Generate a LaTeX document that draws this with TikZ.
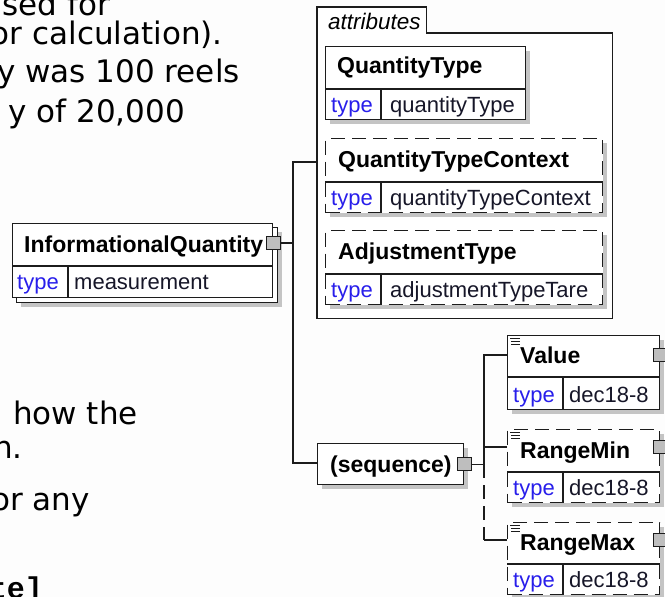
\documentclass[tikz,border=0pt]{standalone}
\usepackage{fontspec}
\setmainfont{Liberation Sans}
\newfontfamily\bodyfont{DejaVu Sans}
\newfontfamily\codefont{Liberation Mono}
\usetikzlibrary{calc,shadows}
\definecolor{ink}{RGB}{28,28,28}
\definecolor{paper}{RGB}{253,253,253}
\definecolor{shade}{RGB}{196,196,196}
\definecolor{portfill}{RGB}{190,190,190}
\definecolor{typeblue}{RGB}{40,30,235}
\definecolor{typetext}{RGB}{22,22,40}
\tikzset{
  plainElem/.style={draw=ink, line width=1.3pt, fill=white, inner sep=0pt, anchor=north west},
  elem/.style={plainElem, general shadow={fill=shade, shadow xshift=4pt, shadow yshift=-4pt}},
  optElem/.style={elem, dash pattern=on 14pt off 7pt},
  rule/.style={draw=ink, line width=1.3pt},
  link/.style={draw=ink, line width=1.3pt},
  optLink/.style={link, dash pattern=on 14pt off 7pt},
  portBox/.style={draw=ink, line width=1pt, fill=portfill, minimum width=14pt,
    minimum height=13pt, inner sep=0pt},
  icon/.style={draw=ink, line width=0.9pt},
  nameText/.style={font=\bfseries\fontsize{23}{27}\selectfont, text=black, inner sep=0pt, anchor=base west},
  groupText/.style={font=\itshape\fontsize{22.5}{26}\selectfont, text=black, inner sep=0pt, anchor=base west},
  typeKey/.style={font=\fontsize{22}{26}\selectfont, text=typeblue, inner sep=0pt, anchor=base west},
  typeVal/.style={font=\fontsize{22}{26}\selectfont, text=typetext, inner sep=0pt, anchor=base west},
  bodyText/.style={font=\bodyfont\fontsize{31}{37}\selectfont, text=black, inner sep=0pt, anchor=base east},
  codeText/.style={font=\codefont\bfseries\fontsize{30}{36}\selectfont, text=black, inner sep=0pt, anchor=base east}
}

\begin{document}
\begin{tikzpicture}[x=1pt,y=-1pt]

% Canvas
\useasboundingbox (0,0) rectangle (665,597);
\clip (0,0) rectangle (665,597);
\fill[paper] (0,0) rectangle (665,597);

% Page text behind the diagram
\node[bodyText] (line1) at (110,16) {used for};
\node[bodyText] (line2) at (223,44) {or calculation).};
\node[bodyText] (line3) at (240,82) {y was 100 reels};
\node[bodyText] (line4) at (185,122) {y of 20,000};
\node[bodyText] (line5) at (138,424) {d how the};
\node[bodyText] (line6) at (23,458) {n.};
\node[bodyText] (line7) at (90,510) {or any};
\node[codeText] (line8) at (43,598) {te]};

% attributes group
\node[anchor=north west, minimum width=295, minimum height=285, inner sep=0pt] (attrBox) at (317,33) {};
\node[anchor=north west, minimum width=109, minimum height=26, inner sep=0pt] (attrTab) at (317,7) {};
\filldraw[link, fill=white] (attrBox.south west) |- (attrTab.north east) |- (attrBox.north east)
  -- (attrBox.south east) -- cycle;
\node[groupText] (attrName) at ($(attrTab.north west)+(11,22)$) {attributes};

\node[elem, minimum width=200, minimum height=73] (qtBox) at (325,46) {};
\draw[rule] ($(qtBox.north west)+(0,43)$) -- ($(qtBox.north east)+(0,43)$);
\draw[rule] ($(qtBox.north west)+(56,43)$) -- ($(qtBox.south west)+(56,0)$);
\node[nameText] (qtName) at ($(qtBox.north west)+(12,28)$) {QuantityType};
\node[typeKey] (qtKey) at ($(qtBox.south west)+(6,-8)$) {type};
\node[typeVal] (qtType) at ($(qtBox.south west)+(65,-8)$) {quantityType};

\node[optElem, minimum width=277, minimum height=74] (qtcBox) at (325,138) {};
\draw[rule] ($(qtcBox.north west)+(0,44)$) -- ($(qtcBox.north east)+(0,44)$);
\draw[rule] ($(qtcBox.north west)+(56,44)$) -- ($(qtcBox.south west)+(56,0)$);
\node[nameText] (qtcName) at ($(qtcBox.north west)+(13,29)$) {QuantityTypeContext};
\node[typeKey] (qtcKey) at ($(qtcBox.south west)+(6,-8)$) {type};
\node[typeVal] (qtcType) at ($(qtcBox.south west)+(65,-8)$) {quantityTypeContext};

\node[optElem, minimum width=277, minimum height=74] (atBox) at (325,230) {};
\draw[rule] ($(atBox.north west)+(0,44)$) -- ($(atBox.north east)+(0,44)$);
\draw[rule] ($(atBox.north west)+(56,44)$) -- ($(atBox.south west)+(56,0)$);
\node[nameText] (atName) at ($(atBox.north west)+(13,29)$) {AdjustmentType};
\node[typeKey] (atKey) at ($(atBox.south west)+(6,-8)$) {type};
\node[typeVal] (atType) at ($(atBox.south west)+(65,-8)$) {adjustmentTypeTare};

% InformationalQuantity
\node[elem, minimum width=261, minimum height=75] (iqBack) at (16,227) {};
\node[plainElem, minimum width=260, minimum height=74] (iqBox) at (12,223) {};
\draw[rule] ($(iqBox.north west)+(0,43)$) -- ($(iqBox.north east)+(0,43)$);
\draw[rule] ($(iqBox.north west)+(56,43)$) -- ($(iqBox.south west)+(56,0)$);
\node[nameText] (iqName) at ($(iqBox.north west)+(12,29)$) {InformationalQuantity};
\node[typeKey] (iqKey) at ($(iqBox.south west)+(5,-9)$) {type};
\node[typeVal] (iqType) at ($(iqBox.south west)+(62,-9)$) {measurement};
\node[portBox] (iqPort) at ($(iqBox.north east)+(0,20)$) {};

% sequence
\node[elem, minimum width=146, minimum height=41] (seqBox) at (317,443) {};
\node[nameText] (seqName) at ($(seqBox.north west)+(13,29)$) {(sequence)};
\node[portBox] (seqPort) at (seqBox.east) {};

\node[elem, minimum width=152, minimum height=74] (valBox) at (507,335) {};
\draw[rule] ($(valBox.north west)+(0,42)$) -- ($(valBox.north east)+(0,42)$);
\draw[rule] ($(valBox.north west)+(56,42)$) -- ($(valBox.south west)+(56,0)$);
\draw[icon] ($(valBox.north west)+(3,3)$) -- +(10,0) ($(valBox.north west)+(4,6)$) -- +(9,0)
  ($(valBox.north west)+(4,9)$) -- +(9,0);
\node[nameText] (valName) at ($(valBox.north west)+(13,28)$) {Value};
\node[typeKey] (valKey) at ($(valBox.south west)+(6,-8)$) {type};
\node[typeVal] (valType) at ($(valBox.south west)+(62,-8)$) {dec18-8};
\node[portBox] (valPort) at ($(valBox.north east)+(0,20)$) {};

\node[optElem, minimum width=152, minimum height=73] (rminBox) at (507,429) {};
\draw[rule] ($(rminBox.north west)+(0,43)$) -- ($(rminBox.north east)+(0,43)$);
\draw[rule] ($(rminBox.north west)+(56,43)$) -- ($(rminBox.south west)+(56,0)$);
\draw[icon] ($(rminBox.north west)+(3,3)$) -- +(10,0) ($(rminBox.north west)+(4,6)$) -- +(9,0)
  ($(rminBox.north west)+(4,9)$) -- +(9,0);
\node[nameText] (rminName) at ($(rminBox.north west)+(13,29)$) {RangeMin};
\node[typeKey] (rminKey) at ($(rminBox.south west)+(6,-8)$) {type};
\node[typeVal] (rminType) at ($(rminBox.south west)+(62,-8)$) {dec18-8};
\node[portBox] (rminPort) at ($(rminBox.north east)+(0,18)$) {};

\node[optElem, minimum width=152, minimum height=72] (rmaxBox) at (507,522) {};
\draw[rule] ($(rmaxBox.north west)+(0,42)$) -- ($(rmaxBox.north east)+(0,42)$);
\draw[rule] ($(rmaxBox.north west)+(56,42)$) -- ($(rmaxBox.south west)+(56,0)$);
\draw[icon] ($(rmaxBox.north west)+(3,3)$) -- +(10,0) ($(rmaxBox.north west)+(4,6)$) -- +(9,0)
  ($(rmaxBox.north west)+(4,9)$) -- +(9,0);
\node[nameText] (rmaxName) at ($(rmaxBox.north west)+(13,28)$) {RangeMax};
\node[typeKey] (rmaxKey) at ($(rmaxBox.south west)+(6,-8)$) {type};
\node[typeVal] (rmaxType) at ($(rmaxBox.south west)+(62,-8)$) {dec18-8};
\node[portBox] (rmaxPort) at ($(rmaxBox.north east)+(0,18)$) {};

% Connectors
\coordinate (trunkTop) at (293,162);
\coordinate (trunkBottom) at (293,463);
\coordinate (forkX) at (484,0);
\draw[link] (iqPort.east) -- (iqPort.east -| trunkTop);
\draw[link] (attrBox.west |- trunkTop) -- (trunkTop) -- (trunkBottom) -- (trunkBottom -| seqBox.west);
\draw[link] (seqPort.east) -- (seqPort.east -| forkX);
\draw[link] (valBox.west |- valPort) -- (forkX |- valPort) -- (forkX |- seqPort);
\draw[link] (forkX |- rminPort) -- (rminBox.west |- rminPort);
\draw[optLink] (forkX |- seqPort) -- (forkX |- rmaxPort);
\draw[link] (forkX |- rmaxPort) -- (rmaxBox.west |- rmaxPort);

\end{tikzpicture}
\end{document}
